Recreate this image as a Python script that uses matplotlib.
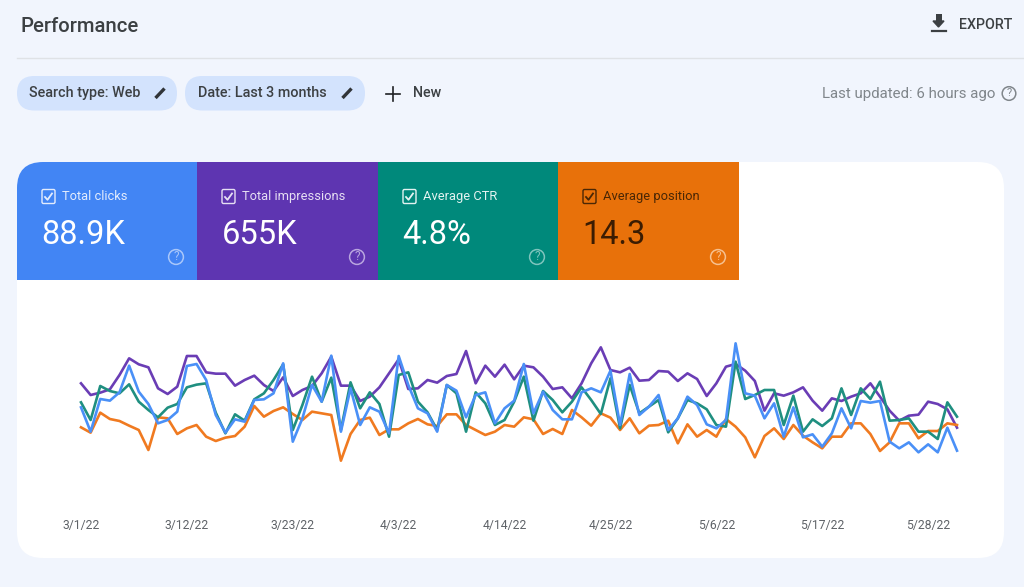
import matplotlib
matplotlib.use("Agg")
import matplotlib.pyplot as plt
from matplotlib.patches import FancyBboxPatch, Rectangle, Circle
import pandas as pd

plt.rcParams['font.family'] = ['Roboto', 'DejaVu Sans']

# index values (same relative scale for all four series)
clicks = [188,115,213,208,233,313,235,198,140,150,175,312,318,270,165,112,152,145,210,212,230,320,85,155,255,205,343,115,245,135,188,
          175,110,342,255,185,170,115,255,238,158,225,233,140,185,208,318,170,235,180,152,152,233,245,233,298,135,288,165,190,
          225,120,155,220,195,137,125,150,380,230,223,155,200,100,188,98,107,70,110,185,125,207,202,207,85,65,83,53,77,53,127,58]
impressions = [260,225,232,242,285,335,317,308,245,228,250,342,342,293,289,289,253,270,283,255,237,278,222,240,252,290,340,253,253,207,220,
               248,290,332,243,245,270,262,282,288,357,260,313,280,316,272,313,308,280,243,248,215,260,320,368,300,293,307,268,270,
               297,295,267,290,273,222,260,310,318,298,267,178,230,223,233,248,208,178,215,207,220,230,260,220,178,148,163,166,205,198,182,127]
ctr = [203,150,252,237,230,257,205,180,158,187,198,248,256,260,172,110,167,148,212,230,270,317,120,195,280,205,277,120,263,185,233,
       198,100,285,293,205,173,120,255,230,115,233,200,135,150,205,280,148,237,210,173,205,248,210,168,275,125,255,170,190,
       210,113,155,210,200,182,135,130,325,213,225,240,240,135,223,115,152,132,155,245,165,245,213,265,148,150,155,115,115,93,203,160]
position = [128,112,172,153,147,133,120,60,158,155,108,125,135,100,87,97,102,130,192,160,177,188,168,150,175,170,165,28,108,150,157,
            105,122,122,140,153,137,132,167,167,135,120,105,115,135,130,158,152,108,123,108,180,158,133,170,157,120,155,110,133,
            135,148,80,137,100,120,100,153,130,98,38,102,125,93,135,103,83,65,100,100,140,140,108,57,83,140,140,95,117,117,140,135]
dates = pd.date_range("2022-03-01", periods=len(clicks))
tick_labels = ["3/1/22", "3/12/22", "3/23/22", "4/3/22", "4/14/22", "4/25/22", "5/6/22", "5/17/22", "5/28/22"]

card_labels = ["Total clicks", "Total impressions", "Average CTR", "Average position"]
card_values = ["88.9K", "655K", "4.8%", "14.3"]

BG = "#F1F5FD"
W, H = 1024, 587
fig = plt.figure(figsize=(W / 100, H / 100), dpi=100, facecolor=BG)

ui = fig.add_axes([0, 0, 1, 1])
ui.set_xlim(0, W)
ui.set_ylim(H, 0)
ui.axis("off")

DARK = "#3C4043"

def txt(x, y, s, size, color=DARK, ha="left", weight="normal"):
    ui.text(x, y, s, fontsize=size, color=color, ha=ha, va="center", fontweight=weight)

def help_icon(x, y, color, r=7.2, size=8.5):
    ui.add_patch(Circle((x, y), r, fill=False, ec=color, lw=1.1))
    txt(x, y, "?", size, color, ha="center")

# header
txt(21, 26.5, "Performance", 14.6, "#3C4043", weight="medium")
ui.plot([17, W], [58, 58], color="#DFE2E6", lw=1)
ui.fill([933, 938.5, 944], [21, 27, 21], color="#3C4043")
ui.add_patch(Rectangle((935.5, 14), 6, 8, color="#3C4043", lw=0))
ui.plot([931.5, 945.5], [30.5, 30.5], color="#3C4043", lw=1.6)
txt(959, 25, "EXPORT", 10.3, "#3C4043", weight="medium")

# filter chips
for x0, x1, label, tx, px in [(17, 177, "Search type: Web", 29, 154.5), (185, 365, "Date: Last 3 months", 198, 341.5)]:
    h = 34.5
    ui.add_patch(FancyBboxPatch((x0, 76), x1 - x0, h, boxstyle=f"round,pad=0,rounding_size={h/2}",
                                fc="#D3E3FD", ec="none"))
    txt(tx, 93, label, 10.4, "#3C4043", weight="medium")
    ui.plot([px + 1, px + 10], [98, 88.5], color="#303438", lw=2.4, solid_capstyle="butt")
ui.plot([386, 400], [93.5, 93.5], color="#202124", lw=1.2)
ui.plot([393, 393], [86.5, 100.5], color="#202124", lw=1.2)
txt(413, 93, "New", 10.3, "#3C4043", weight="medium")
txt(822, 94, "Last updated: 6 hours ago", 10.85, "#80868B")
help_icon(1009, 93.5, "#80868B", r=6.8, size=8)

# white card
card = FancyBboxPatch((17, 162), 987, 396, boxstyle="round,pad=0,rounding_size=26", fc="white", ec="none")
ui.add_patch(card)

# metric tiles
tile_x = [17, 197, 378, 558, 739]
tile_col = ["#4285F4", "#5E35B1", "#00897B", "#E8710A"]
tile_txt = ["white", "white", "white", "#3B1C02"]
tile_lab = ["#E3ECFD", "#E6DFF3", "#E3F3F1", "#4A2705"]
tile_help = ["#A9C7FA", "#B9A5DF", "#7FC4BD", "#F6C08F"]
for i in range(4):
    r = Rectangle((tile_x[i], 162), tile_x[i + 1] - tile_x[i], 117.5, fc=tile_col[i], ec="none")
    ui.add_patch(r)
    r.set_clip_path(card)
    bx = tile_x[i] + 25
    ui.add_patch(FancyBboxPatch((bx, 189.5), 13, 14, boxstyle="round,pad=0,rounding_size=1.5",
                                fc="none", ec=tile_lab[i], lw=1))
    ui.plot([bx + 3, bx + 5.5, bx + 10], [197, 199.8, 193.5], color=tile_lab[i], lw=1.3)
    txt(bx + 20, 196.5, card_labels[i], 9.3, tile_lab[i])
    txt(bx - 0.5, 235, card_values[i], 23.5, tile_txt[i])
    help_icon(tile_x[i + 1] - 21, 257, tile_help[i], r=7.4, size=8.5)

# chart
x0, x1, y_top, y_bot = 81, 957, 330, 470
ax = fig.add_axes([x0 / W, 1 - y_bot / H, (x1 - x0) / W, (y_bot - y_top) / H])
ax.patch.set_alpha(0)
for s in ax.spines.values():
    s.set_visible(False)
ax.set_xlim(dates[0], dates[-1])
ax.set_ylim(0, 420)
ax.set_yticks([])
ax.set_xticks(dates[::11][:len(tick_labels)])
ax.set_xticklabels(tick_labels, fontsize=8.7, color="#5F6368")
ax.tick_params(axis="x", length=0, pad=35)

ax.plot(dates, impressions, color="#6A3DB5", lw=1.9, clip_on=False)
ax.plot(dates, position, color="#F07A20", lw=1.9, clip_on=False)
ax.plot(dates, ctr, color="#1F8F80", lw=1.9, clip_on=False)
ax.plot(dates, clicks, color="#4A90F7", lw=1.9, clip_on=False)

fig.savefig("out.png", dpi=100, facecolor=BG)
